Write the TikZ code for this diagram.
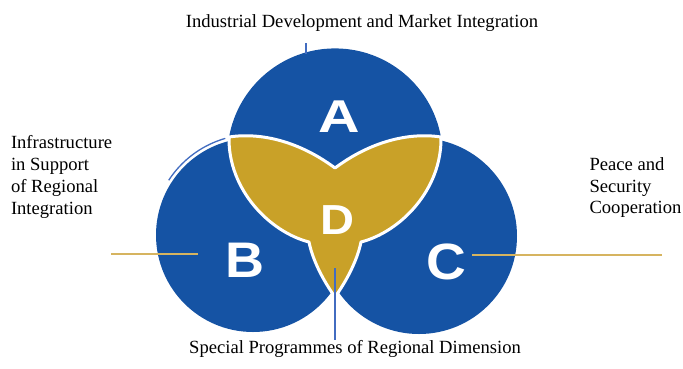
\documentclass[tikz,border=0pt]{standalone}
\usepackage{fontspec}
\setmainfont{Liberation Serif}
\newfontfamily\lettersf{Liberation Sans}
\usetikzlibrary{calc}
\definecolor{myblue}{RGB}{21, 83, 164}
\definecolor{mygold}{RGB}{201, 161, 40}
\definecolor{leadblue}{RGB}{66, 108, 192}
\definecolor{leadgold}{RGB}{214, 180, 96}

\begin{document}
\begin{tikzpicture}[x=1pt,y=-1pt]

\tikzstyle{blue_disc} = [fill=myblue, draw=none]
\tikzstyle{gold_part} = [fill=mygold, draw=white, line width=3, line join=round]
\tikzstyle{letter} = [text=white, inner sep=0, outer sep=0, anchor=center]
\tikzstyle{caption} = [inner sep=0, outer sep=0, font=\fontsize{18.6}{21.8}\selectfont]
\tikzstyle{lead_b} = [draw=leadblue, line width=1.4]
\tikzstyle{lead_g} = [draw=leadgold, line width=1.4]

\useasboundingbox (0,0) rectangle (683,368);

\fill[blue_disc] (335,156) circle (107.6);
\fill[blue_disc] (253,235) circle (97);
\fill[blue_disc] (419,236) circle (98);

\draw[leadblue, line width=1.3] plot[domain=-147:-106, samples=25] ({253+100.5*cos(\x)}, {235+100.5*sin(\x)});

\filldraw[gold_part] (229,137) .. controls (262,132) and (300,142) .. (335,168)
  .. controls (370,142) and (408,132) .. (441,137)
  .. controls (442,190) and (400,232) .. (361,242)
  .. controls (357,262) and (345,283) .. (335,297)
  .. controls (325,283) and (313,262) .. (309,242)
  .. controls (270,232) and (228,190) .. (229,137) -- cycle;

\node[letter, font=\lettersf\bfseries\fontsize{46}{46}\selectfont, xscale=1.25] (A) at (339,117) {A};
\node[letter, font=\lettersf\bfseries\fontsize{50}{50}\selectfont, xscale=1.08] (B) at (245,260) {B};
\node[letter, font=\lettersf\bfseries\fontsize{51}{51}\selectfont, xscale=1.08] (C) at (446,262) {C};
\node[letter, font=\lettersf\bfseries\fontsize{42}{42}\selectfont, xscale=1.12] (D) at (337,220) {D};

\node[caption, anchor=base] (industry) at (362,27) {Industrial Development and Market Integration};
\node[caption, anchor=north west, align=left] (infra) at (11,135.7) {Infrastructure\\ in Support\\ of Regional\\ Integration};
\node[caption, anchor=north west, align=left] (peace) at (589.5,157.4) {Peace and\\ Security\\ Cooperation};
\node[caption, anchor=base] (special) at (355,353) {Special Programmes of Regional Dimension};

\coordinate (topA) at (306,43);
\coordinate (topAend) at (306,54);
\draw[lead_b] (topA) -- (topAend);
\coordinate (dFoot) at (335,268);
\coordinate (dEnd) at (335,340);
\draw[lead_b] (dFoot) -- (dEnd);
\coordinate (bOut) at (111,254);
\coordinate (bIn) at (198,254);
\draw[lead_g] (bOut) -- (bIn);
\coordinate (cIn) at (472,255);
\coordinate (cOut) at (662,255);
\draw[lead_g] (cIn) -- (cOut);

\end{tikzpicture}
\end{document}
